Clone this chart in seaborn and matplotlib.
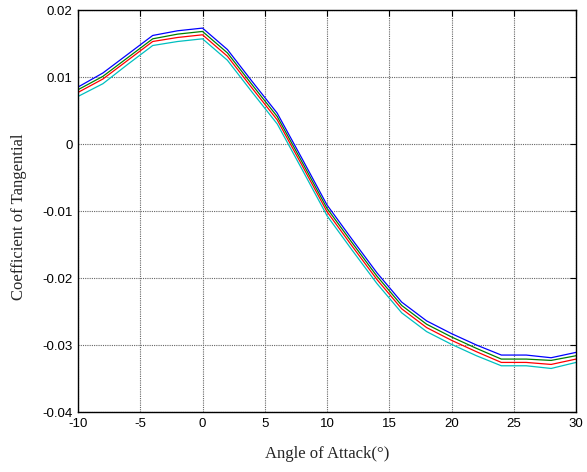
import pandas as pd
import matplotlib
matplotlib.use('Agg')
import matplotlib.pyplot as plt
import seaborn as sns

sns.set_style('white')
plt.rcParams['axes.unicode_minus'] = False

# angle of attack (deg)
angle = [-10, -8, -6, -4, -2, 0, 2, 4, 6, 8, 10, 12, 14, 16, 18, 20, 22, 24, 26, 28, 30]

# tangential coefficient, four cases
ct_blue = [0.0085, 0.0106, 0.0134, 0.0162, 0.0169, 0.0173, 0.0141, 0.0093, 0.0046, -0.0022, -0.0091,
           -0.0142, -0.0192, -0.0236, -0.0264, -0.0283, -0.0300, -0.0315, -0.0315, -0.0319, -0.0311]
ct_green = [0.0081, 0.0101, 0.0129, 0.0157, 0.0164, 0.0168, 0.0136, 0.0088, 0.0041, -0.0027, -0.0096,
            -0.0147, -0.0197, -0.0241, -0.0269, -0.0288, -0.0305, -0.0321, -0.0321, -0.0323, -0.0316]
ct_red = [0.0077, 0.0097, 0.0125, 0.0153, 0.0159, 0.0163, 0.0131, 0.0083, 0.0036, -0.0032, -0.0101,
          -0.0152, -0.0202, -0.0246, -0.0274, -0.0293, -0.0310, -0.0326, -0.0326, -0.0329, -0.0321]
ct_cyan = [0.0071, 0.0090, 0.0119, 0.0147, 0.0153, 0.0157, 0.0125, 0.0077, 0.0030, -0.0038, -0.0107,
           -0.0158, -0.0208, -0.0252, -0.0280, -0.0299, -0.0316, -0.0331, -0.0331, -0.0335, -0.0326]

series = {'blue': ct_blue, 'green': ct_green, 'red': ct_red, 'cyan': ct_cyan}
colors = {'blue': '#0000ff', 'green': '#008000', 'red': '#ff0000', 'cyan': '#00bfbf'}

df = pd.concat([pd.DataFrame({'angle': angle, 'ct': v, 'case': k}) for k, v in series.items()],
               ignore_index=True)

fig = plt.figure(figsize=(5.87, 4.72), dpi=100)
ax = fig.add_axes([0.1329, 0.1271, 0.8484, 0.8517])

# draw cyan first so blue ends up on top
for k in ['cyan', 'red', 'green', 'blue']:
    sns.lineplot(data=df[df['case'] == k], x='angle', y='ct', color=colors[k],
                 linewidth=0.9, ax=ax, legend=False)

ax.set_xlim(-10, 30)
ax.set_ylim(-0.04, 0.02)
ax.set_xticks(range(-10, 31, 5))
ax.set_yticks([-0.04, -0.03, -0.02, -0.01, 0, 0.01, 0.02])
ax.set_yticklabels(['-0.04', '-0.03', '-0.02', '-0.01', '0', '0.01', '0.02'])

ax.grid(True, color='#666666', linestyle=(0, (1, 1)), linewidth=0.8)
ax.set_axisbelow(True)
for s in ax.spines.values():
    s.set_color('black')
    s.set_linewidth(1.0)
ax.tick_params(direction='in', length=4, width=0.8, top=True, right=True,
               labelsize=9.5, pad=4, colors='black')
for lab in ax.get_xticklabels() + ax.get_yticklabels():
    lab.set_family('Liberation Sans')

ax.set_xlabel('Angle of Attack(°)', family='Liberation Serif', fontsize=12, labelpad=12)
ax.set_ylabel('Coefficient of Tangential', family='Liberation Serif', fontsize=12)
ax.yaxis.set_label_coords(-0.102, 0.485)

fig.savefig('out.png', dpi=100)
